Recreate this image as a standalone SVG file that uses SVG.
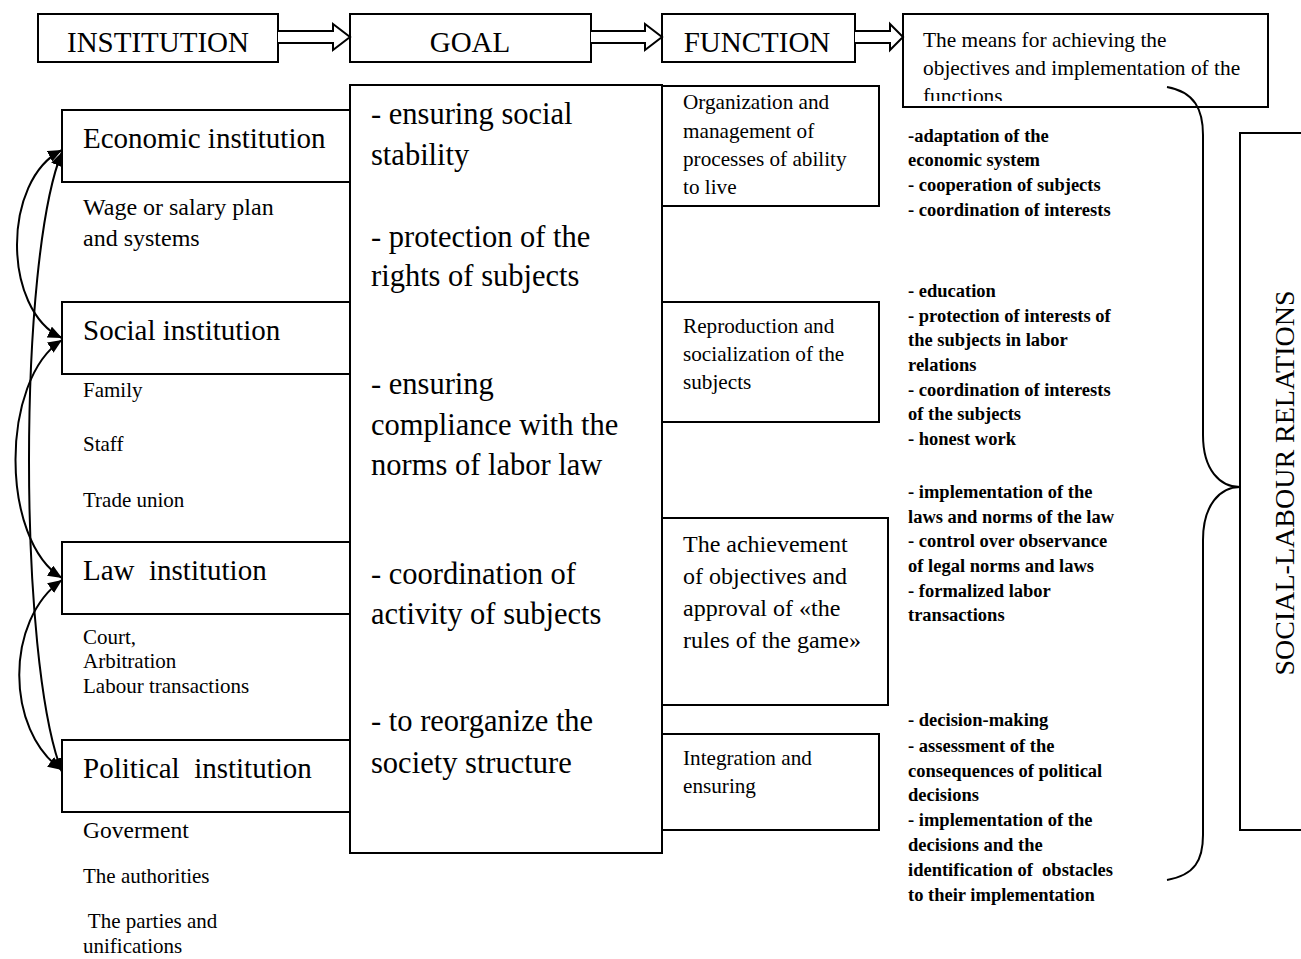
<svg xmlns="http://www.w3.org/2000/svg" width="1301" height="959" viewBox="0 0 1301 959">
<style>
.box{fill:#fff;stroke:#000;stroke-width:2}
.t{font-family:"Liberation Serif","Times New Roman",serif;fill:#000}
.hd{font-size:29px}
.inst{font-size:29px}
.goal{font-size:30.5px}
.fn{font-size:21.2px}
.sub{font-size:21px}
.sub2{font-size:24px}
.b{font-size:18.5px;font-weight:bold}
.conn{fill:none;stroke:#000;stroke-width:2}
.harr{fill:#fff;stroke:#000;stroke-width:2;stroke-linejoin:miter}
</style>
<defs>
<marker id="ah" viewBox="0 0 14 12" refX="14" refY="6" markerWidth="14" markerHeight="12" markerUnits="userSpaceOnUse" orient="auto-start-reverse">
<path d="M0,0 L14,6 L0,12 z" fill="#000"/>
</marker>
<clipPath id="mclip"><rect x="903" y="14" width="365" height="87"/></clipPath>
</defs>
<rect width="1301" height="959" fill="#fff"/>

<g id="h-institution"><rect class="box" x="38" y="14" width="240" height="48"/><text class="t hd" x="158" y="52" text-anchor="middle">INSTITUTION</text></g>
<g id="h-goal"><rect class="box" x="350" y="14" width="241" height="48"/><text class="t hd" x="470" y="52" text-anchor="middle">GOAL</text></g>
<g id="h-function"><rect class="box" x="662" y="14" width="193" height="48"/><text class="t hd" x="757" y="52" text-anchor="middle">FUNCTION</text></g>
<g id="h-means"><rect class="box" x="903" y="14" width="365" height="93"/>
<g clip-path="url(#mclip)"><text class="t fn" x="923" y="47" style="font-size:21.4px">The means for achieving the</text><text class="t fn" x="923" y="75" style="font-size:21.4px">objectives and implementation of the</text><text class="t fn" x="923" y="103" style="font-size:21.4px">functions</text></g></g>

<g id="goal-box"><rect class="box" x="350" y="85" width="312" height="768"/>
<text class="t goal" x="371" y="124">- ensuring social</text>
<text class="t goal" x="371" y="165">stability</text>
<text class="t goal" x="371" y="247">- protection of the</text>
<text class="t goal" x="371" y="286">rights of subjects</text>
<text class="t goal" x="371" y="394">- ensuring</text>
<text class="t goal" x="371" y="435">compliance with the</text>
<text class="t goal" x="371" y="475">norms of labor law</text>
<text class="t goal" x="371" y="584">- coordination of</text>
<text class="t goal" x="371" y="624">activity of subjects</text>
<text class="t goal" x="371" y="731">- to reorganize the</text>
<text class="t goal" x="371" y="773">society structure</text>
</g>

<g id="economic"><rect class="box" x="62" y="110" width="288" height="72"/><text class="t inst" x="83" y="148">Economic institution</text>
<text class="t sub2" x="83" y="215">Wage or salary plan</text><text class="t sub2" x="83" y="246">and systems</text></g>
<g id="social"><rect class="box" x="62" y="302" width="288" height="72"/><text class="t inst" x="83" y="340">Social institution</text>
<text class="t sub" x="83" y="397">Family</text><text class="t sub" x="83" y="451">Staff</text><text class="t sub" x="83" y="507">Trade union</text></g>
<g id="law"><rect class="box" x="62" y="542" width="288" height="72"/><text class="t inst" x="83" y="580" xml:space="preserve">Law  institution</text>
<text class="t sub" x="83" y="644">Court,</text><text class="t sub" x="83" y="668">Arbitration</text><text class="t sub" x="83" y="693">Labour transactions</text></g>
<g id="political"><rect class="box" x="62" y="740" width="288" height="72"/><text class="t inst" x="83" y="778" xml:space="preserve">Political  institution</text>
<text class="t sub" x="83" y="838" style="font-size:23.5px">Goverment</text><text class="t sub" x="83" y="883">The authorities</text><text class="t sub" x="83" y="928" xml:space="preserve"> The parties and</text><text class="t sub" x="83" y="953">unifications</text></g>

<g id="f-organization"><rect class="box" x="662" y="86" width="217" height="120"/>
<text class="t fn" x="683" y="109">Organization and</text><text class="t fn" x="683" y="138">management of</text><text class="t fn" x="683" y="166">processes of ability</text><text class="t fn" x="683" y="194">to live</text></g>
<g id="f-reproduction"><rect class="box" x="662" y="302" width="217" height="120"/>
<text class="t fn" x="683" y="333">Reproduction and</text><text class="t fn" x="683" y="361">socialization of the</text><text class="t fn" x="683" y="389">subjects</text></g>
<g id="f-achievement"><rect class="box" x="662" y="518" width="226" height="187"/>
<text class="t fn" x="683" y="552" style="font-size:24px">The achievement</text><text class="t fn" x="683" y="584" style="font-size:24px">of objectives and</text><text class="t fn" x="683" y="616" style="font-size:24px">approval of «the</text><text class="t fn" x="683" y="648" style="font-size:24px">rules of the game»</text></g>
<g id="f-integration"><rect class="box" x="662" y="734" width="217" height="96"/>
<text class="t fn" x="683" y="765">Integration and</text><text class="t fn" x="683" y="793">ensuring</text></g>

<g id="means-1">
<text class="t b" x="908" y="142">-adaptation of the</text><text class="t b" x="908" y="166">economic system</text><text class="t b" x="908" y="191">- cooperation of subjects</text><text class="t b" x="908" y="216">- coordination of interests</text></g>
<g id="means-2">
<text class="t b" x="908" y="297">- education</text><text class="t b" x="908" y="322">- protection of interests of</text><text class="t b" x="908" y="346">the subjects in labor</text><text class="t b" x="908" y="371">relations</text><text class="t b" x="908" y="396">- coordination of interests</text><text class="t b" x="908" y="420">of the subjects</text><text class="t b" x="908" y="445">- honest work</text></g>
<g id="means-3">
<text class="t b" x="908" y="498">- implementation of the</text><text class="t b" x="908" y="523">laws and norms of the law</text><text class="t b" x="908" y="547">- control over observance</text><text class="t b" x="908" y="572">of legal norms and laws</text><text class="t b" x="908" y="597">- formalized labor</text><text class="t b" x="908" y="621">transactions</text></g>
<g id="means-4">
<text class="t b" x="908" y="726">- decision-making</text><text class="t b" x="908" y="752">- assessment of the</text><text class="t b" x="908" y="777">consequences of political</text><text class="t b" x="908" y="801">decisions</text><text class="t b" x="908" y="826">- implementation of the</text><text class="t b" x="908" y="851">decisions and the</text><text class="t b" x="908" y="876" xml:space="preserve">identification of  obstacles</text><text class="t b" x="908" y="901">to their implementation</text></g>

<g id="social-labour"><rect class="box" x="1240" y="133" width="80" height="697"/>
<text class="t" x="0" y="0" font-size="28" text-anchor="middle" transform="translate(1294,483) rotate(-90)">SOCIAL-LABOUR RELATIONS</text></g>

<g id="connectors">
<path class="harr" d="M278,31 H333 V24 L350,37 L333,50 V43 H278"/>
<path class="harr" d="M591,31 H645 V24 L662,37 L645,50 V43 H591"/>
<path class="harr" d="M855,31 H890 V24 L903,37 L890,50 V43 H855"/>
<path class="conn" d="M62,150 C2,180 2,310 62,338" marker-start="url(#ah)" marker-end="url(#ah)"/>
<path class="conn" d="M62,152 C18,260 18,660 62,772" marker-start="url(#ah)" marker-end="url(#ah)"/>
<path class="conn" d="M62,340 C0,380 0,540 62,578" marker-start="url(#ah)" marker-end="url(#ah)"/>
<path class="conn" d="M62,580 C5,620 5,730 62,770" marker-start="url(#ah)" marker-end="url(#ah)"/>
<path class="conn" d="M1167,87 C1195,92 1203,110 1203,135 L1203,435 C1203,470 1220,487 1240,487 C1220,487 1203,505 1203,540 L1203,835 C1203,860 1195,875 1167,880"/>
</g>
</svg>
